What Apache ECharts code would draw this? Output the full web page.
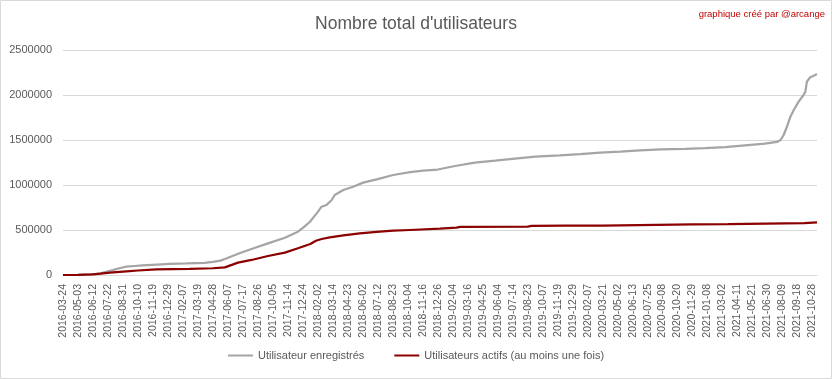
<!DOCTYPE html>
<html>
<head>
<meta charset="utf-8">
<script src="https://cdn.jsdelivr.net/npm/echarts@6/dist/echarts.min.js"></script>
<style>
html,body{margin:0;padding:0;background:#fff;}
#chart{width:832px;height:379px;}
</style>
</head>
<body>
<div id="chart"></div>
<script>
// Tick labels: one every 40 daily records
const tickLabels = [
 '2016-03-24','2016-05-03','2016-06-12','2016-07-22','2016-08-31','2016-10-10','2016-11-19','2016-12-29',
 '2017-02-07','2017-03-19','2017-04-28','2017-06-07','2017-07-17','2017-08-26','2017-10-05','2017-11-14',
 '2017-12-24','2018-02-02','2018-03-14','2018-04-23','2018-06-02','2018-07-12','2018-08-23','2018-10-04',
 '2018-11-16','2018-12-26','2019-02-04','2019-03-16','2019-04-25','2019-06-04','2019-07-14','2019-08-23',
 '2019-10-07','2019-11-19','2019-12-29','2020-02-07','2020-03-21','2020-05-02','2020-06-13','2020-07-25',
 '2020-09-08','2020-10-20','2020-11-29','2021-01-08','2021-03-02','2021-04-11','2021-05-21','2021-06-30',
 '2021-08-09','2021-09-18','2021-10-28'
];
const recordsPerLabel = 40;
const lastRecord = 2012;

// Utilisateur enregistrés: record number -> value
const regIdx = [0,40,70,90,100,115,133,150,169,190,213,250,285,330,378,400,420,432,459,480,503,547,592,627,645,659,672,677,690,703,717,725,748,774,801,837,881,926,961,1000,1046,1099,1153,1206,1260,1326,1380,1433,1487,1540,1594,1660,1713,1767,1820,1873,1905,1915,1923,1932,1941,1950,1963,1976,1981,1985,1994,2003,2012];
const regValues = [0,2000,6000,12000,19000,35000,55000,75000,92000,100000,108000,116000,123000,128000,136000,145000,160000,178000,222000,255000,289000,352000,414000,481000,540000,592000,660000,685000,759000,778000,833000,889000,944000,981000,1026000,1063000,1111000,1144000,1160000,1172000,1211000,1248000,1270000,1293000,1315000,1330000,1344000,1359000,1370000,1385000,1396000,1402000,1411000,1422000,1441000,1460000,1478000,1500000,1556000,1650000,1759000,1833000,1926000,2000000,2037000,2148000,2197000,2215000,2233000];

// Utilisateurs actifs (au moins une fois)
const actIdx = [0,40,79,100,125,169,200,249,338,400,432,467,503,547,592,627,660,675,690,712,748,792,837,881,926,1006,1050,1060,1240,1250,1340,1440,1442,1680,1774,1776,1978,1980,2012];
const actValues = [0,2000,8000,15000,26000,41000,50000,63000,68000,75000,85000,137000,167000,211000,248000,297000,345000,380000,400000,419000,441000,463000,478000,492000,500000,514000,526000,535000,537000,546000,548000,548000,559000,563000,565000,574000,576000,585000,586000];

const yTicks = [0,500000,1000000,1500000,2000000,2500000];

const FONT = 'Liberation Sans, Arial, sans-serif';
const pair = (xs, ys) => xs.map((x, i) => [x, ys[i]]);

const chart = echarts.init(document.getElementById('chart'), null, {renderer: 'canvas'});
chart.setOption({
  animation: false,
  backgroundColor: '#ffffff',
  textStyle: {fontFamily: FONT},
  graphic: [{
    type: 'rect', silent: true,
    shape: {x: 0.5, y: 0.5, width: 831, height: 378},
    style: {fill: 'none', stroke: '#d9d9d9', lineWidth: 1}
  }],
  title: [{
    text: "Nombre total d'utilisateurs",
    left: 'center', top: 10,
    textStyle: {fontFamily: FONT, fontSize: 17.5, fontWeight: 'normal', color: '#595959'}
  }, {
    text: 'graphique créé par @arcange',
    right: 2, top: 4,
    textStyle: {fontFamily: FONT, fontSize: 9.5, fontWeight: 'normal', color: '#c00000'}
  }],
  grid: {left: 63, right: 15, top: 50, bottom: 104, containLabel: false},
  legend: {
    bottom: 13, left: 'center', icon: 'rect',
    itemWidth: 25, itemHeight: 2, itemGap: 30,
    textStyle: {fontFamily: FONT, fontSize: 11, color: '#595959'},
    data: ['Utilisateur enregistrés', 'Utilisateurs actifs (au moins une fois)']
  },
  xAxis: {
    type: 'value', min: 0, max: lastRecord, interval: recordsPerLabel,
    axisLine: {show: true, lineStyle: {color: '#d9d9d9', width: 1}},
    axisTick: {show: false},
    splitLine: {show: false},
    axisLabel: {
      rotate: 90, margin: 9, fontSize: 10.5, color: '#595959', fontFamily: FONT,
      showMaxLabel: false,
      formatter: v => (v % recordsPerLabel === 0 && tickLabels[v / recordsPerLabel]) || ''
    }
  },
  yAxis: {
    type: 'value', min: yTicks[0], max: yTicks[yTicks.length - 1], interval: yTicks[1] - yTicks[0],
    axisLine: {show: false}, axisTick: {show: false},
    splitLine: {lineStyle: {color: '#d9d9d9', width: 1}},
    axisLabel: {fontSize: 11, color: '#595959', fontFamily: FONT, margin: 11, formatter: v => String(v)}
  },
  series: [{
    name: 'Utilisateur enregistrés', type: 'line', symbol: 'none', smooth: false,
    data: pair(regIdx, regValues),
    itemStyle: {color: '#a5a5a5'},
    lineStyle: {color: '#a5a5a5', width: 2.25}
  }, {
    name: 'Utilisateurs actifs (au moins une fois)', type: 'line', symbol: 'none', smooth: false,
    data: pair(actIdx, actValues),
    itemStyle: {color: '#8b0000'},
    lineStyle: {color: '#8b0000', width: 2.25}
  }]
});
</script>
</body>
</html>
